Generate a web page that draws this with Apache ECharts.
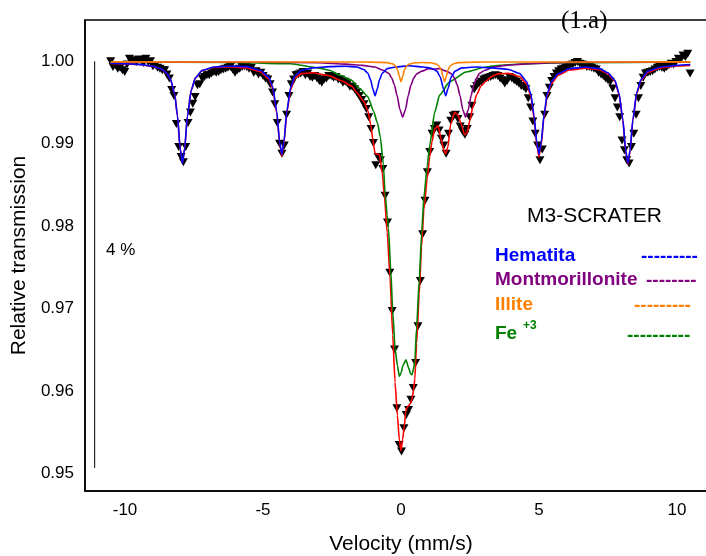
<!DOCTYPE html>
<html><head><meta charset="utf-8">
<script src="https://cdn.jsdelivr.net/npm/echarts@6/dist/echarts.min.js"></script>
<style>html,body{margin:0;padding:0;background:#fff}#c{width:706px;height:556px}</style>
</head><body><div id="c"></div>
<script>
// channel velocity calibration (mm/s)
const velStart = -10.52, velStep = 0.085;
// measured relative transmission per channel
const measured = [1.0000,0.9993,0.9995,0.9991,0.9992,0.9989,0.9987,0.9996,1.0003,1.0001,
1.0001,0.9999,1.0002,1.0001,0.9998,1.0003,0.9999,1.0000,0.9994,0.9995,
0.9992,0.9991,0.9989,0.9989,0.9984,0.9979,0.9965,0.9958,0.9924,0.9896,
0.9884,0.98775,0.9896,0.9925,0.9938,0.99485,0.99566,0.9971,0.9972,0.9979,
0.9981,0.9983,0.9983,0.9985,0.9987,0.9986,0.9987,0.9989,0.9990,0.9991,
0.9992,0.9993,0.9990,0.9986,0.9989,0.9991,0.9993,0.9994,0.9993,0.9991,
0.9992,0.9986,0.9988,0.9984,0.9986,0.9982,0.9979,0.9978,0.9972,0.9962,
0.9948,0.9925,0.9900,0.9888,0.9898,0.9935,0.9958,0.9972,0.9978,0.9983,
0.9984,0.9985,0.9987,0.9983,0.9985,0.9981,0.9980,0.9982,0.9979,0.9976,
0.9974,0.9978,0.9979,0.9982,0.9982,0.9980,0.9981,0.9978,0.9978,0.9974,
0.9975,0.9973,0.9969,0.9969,0.9966,0.9962,0.9958,0.9953,0.9948,0.9942,
0.9932,0.9918,0.9901,0.9874,0.9884,0.9880,0.98695,0.9837,0.98045,0.97437,
0.96971,0.96505,0.95794,0.95349,0.95268,0.95551,0.9571,0.95773,0.95896,0.96038,
0.96342,0.96788,0.97336,0.97904,0.98309,0.98653,0.9890,0.9912,0.9918,0.9922,
0.9916,0.9906,0.9898,0.9888,0.9912,0.9928,0.9934,0.9935,0.9930,0.9921,
0.9915,0.9911,0.9918,0.9932,0.9946,0.9966,0.9970,0.9973,0.9975,0.9978,
0.9979,0.9980,0.9981,0.9982,0.9983,0.9982,0.9979,0.9977,0.9973,0.9976,
0.9981,0.9979,0.9977,0.9975,0.9973,0.9970,0.9969,0.9966,0.9955,0.9944,
0.9927,0.9912,0.9898,0.9880,0.9893,0.9935,0.9958,0.9968,0.9976,0.9981,
0.9985,0.9988,0.9990,0.9991,0.9992,0.9994,0.9995,0.9996,0.9998,0.9999,
0.9997,0.9996,0.9995,0.9993,0.9993,0.9992,0.9991,0.9990,0.9986,0.9984,
0.9982,0.9979,0.9977,0.9975,0.9967,0.9955,0.9944,0.9932,0.9904,0.9892,
0.9880,0.9876,0.9896,0.9912,0.9935,0.9955,0.9970,0.9980,0.9985,0.9986,
0.9987,0.9988,0.9990,0.9992,0.9993,0.9992,0.9991,0.9993,0.9995,0.9997,
0.9996,0.9999,1.0003,1.0002,1.0007,1.0005,1.0009,0.9985];

const totalFit = [[-10.52,0.99974],[-10,0.99968],[-9.5,0.9996],[-9,0.99938],[-8.7,0.99908],[-8.5,0.99858],[-8.35,0.99778],[-8.2,0.99598],[-8.1,0.99338],[-8,0.98938],[-7.92,0.98758],[-7.84,0.98938],[-7.74,0.99328],[-7.6,0.99648],[-7.45,0.99798],[-7.2,0.99888],[-6.8,0.99925],[-6.2,0.99932],[-5.6,0.9992],[-5.1,0.99873],[-4.8,0.9979],[-4.65,0.9967],[-4.5,0.9937],[-4.4,0.9901],[-4.32,0.9885],[-4.24,0.9901],[-4.14,0.9937],[-4,0.99655],[-3.85,0.99795],[-3.6,0.9985],[-3.2,0.9986],[-2.6,0.99825],[-2.2,0.9977],[-1.8,0.99703],[-1.6,0.9962],[-1.35,0.99513],[-1.2,0.994],[-1.1,0.99236],[-1.02,0.9905],[-0.94,0.98883],[-0.86,0.98874],[-0.78,0.98865],[-0.68,0.98648],[-0.6,0.98362],[-0.5,0.97925],[-0.4,0.97396],[-0.3,0.96681],[-0.216,0.96108],[-0.13,0.95708],[-0.06,0.95407],[0,0.9528],[0.06,0.95419],[0.12,0.95578],[0.18,0.95777],[0.28,0.95826],[0.35,0.95857],[0.4,0.95911],[0.46,0.96025],[0.5,0.96147],[0.565,0.96575],[0.66,0.97177],[0.745,0.97753],[0.83,0.98203],[0.95,0.9858],[1.04,0.9884],[1.12,0.9902],[1.22,0.9918],[1.34,0.9922],[1.46,0.9905],[1.54,0.9893],[1.62,0.9888],[1.7,0.9896],[1.8,0.9924],[1.94,0.9938],[2.06,0.9935],[2.18,0.9924],[2.3,0.9911],[2.4,0.9914],[2.5,0.9929],[2.6,0.9944],[2.75,0.996],[2.9,0.997],[3.08,0.9976],[3.3,0.9982],[3.56,0.9985],[3.9,0.99853],[4.3,0.99815],[4.55,0.99725],[4.7,0.9958],[4.82,0.99315],[4.92,0.98985],[5,0.9884],[5.08,0.98985],[5.18,0.99318],[5.3,0.99585],[5.45,0.9973],[5.7,0.9983],[6.1,0.99893],[6.7,0.99915],[7.2,0.99897],[7.5,0.99848],[7.75,0.99758],[7.9,0.99598],[8.04,0.99278],[8.14,0.98908],[8.22,0.98748],[8.3,0.98908],[8.4,0.99278],[8.54,0.99608],[8.7,0.99768],[8.95,0.99868],[9.4,0.9992],[10,0.99942],[10.48,0.9995]];

const hematita = [[-10.52,0.99975],[-10,0.9997],[-9.5,0.99962],[-9,0.9994],[-8.7,0.9991],[-8.5,0.9986],[-8.35,0.9978],[-8.2,0.996],[-8.1,0.9934],[-8,0.9894],[-7.92,0.9876],[-7.84,0.9894],[-7.74,0.9933],[-7.6,0.9965],[-7.45,0.998],[-7.2,0.9989],[-6.8,0.9993],[-6.2,0.9994],[-5.6,0.99935],[-5.1,0.9989],[-4.8,0.9981],[-4.65,0.9969],[-4.5,0.9939],[-4.4,0.9903],[-4.32,0.9887],[-4.24,0.9903],[-4.14,0.9939],[-4,0.9968],[-3.85,0.9982],[-3.6,0.9989],[-3.2,0.9992],[-2.6,0.99935],[-2,0.9994],[-1.6,0.9993],[-1.35,0.999],[-1.2,0.99855],[-1.1,0.99775],[-1.02,0.99665],[-0.94,0.9958],[-0.86,0.99665],[-0.78,0.99775],[-0.68,0.99855],[-0.5,0.9991],[-0.2,0.9993],[0.3,0.99945],[0.8,0.9993],[1.1,0.99915],[1.3,0.9988],[1.42,0.9981],[1.54,0.99665],[1.62,0.9958],[1.7,0.99665],[1.82,0.9981],[1.96,0.9988],[2.2,0.9992],[2.7,0.9993],[3.3,0.9992],[3.9,0.999],[4.3,0.9985],[4.55,0.99755],[4.7,0.9961],[4.82,0.99345],[4.92,0.99015],[5,0.9887],[5.08,0.99015],[5.18,0.99345],[5.3,0.9961],[5.45,0.99755],[5.7,0.9985],[6.1,0.9991],[6.7,0.9993],[7.2,0.9991],[7.5,0.9986],[7.75,0.9977],[7.9,0.9961],[8.04,0.9929],[8.14,0.9892],[8.22,0.9876],[8.3,0.9892],[8.4,0.9929],[8.54,0.9962],[8.7,0.9978],[8.95,0.9988],[9.4,0.9993],[10,0.9995],[10.48,0.9996]];

const montmorillonite = [[-10.52,0.9999],[-5,0.99988],[-3,0.99982],[-2,0.99965],[-1.4,0.9995],[-0.94,0.9993],[-0.64,0.9989],[-0.44,0.99853],[-0.34,0.99799],[-0.24,0.99714],[-0.14,0.99583],[-0.04,0.99414],[0.06,0.99322],[0.16,0.99412],[0.26,0.99581],[0.36,0.9971],[0.46,0.99795],[0.56,0.99846],[0.76,0.9988],[1,0.9991],[1.2,0.99905],[1.4,0.9991],[1.64,0.9988],[1.84,0.99846],[1.94,0.99795],[2.04,0.9971],[2.14,0.99581],[2.24,0.99412],[2.34,0.99322],[2.44,0.99414],[2.54,0.99583],[2.64,0.99714],[2.74,0.99799],[2.84,0.99853],[3.04,0.9989],[3.34,0.9993],[3.8,0.9995],[4.4,0.99965],[5.4,0.99982],[7.4,0.99988],[10.48,0.9999]];

const illite = [[-10.52,0.99992],[-2,0.99991],[-1,0.99989],[-0.5,0.99983],[-0.3,0.99968],[-0.2,0.99944],[-0.12,0.99894],[-0.06,0.99816],[0,0.99751],[0.06,0.99815],[0.12,0.99893],[0.2,0.99943],[0.3,0.99966],[0.5,0.99981],[0.79,0.99984],[1.08,0.99981],[1.28,0.99966],[1.38,0.99943],[1.46,0.99893],[1.52,0.99815],[1.58,0.99751],[1.64,0.99815],[1.7,0.99893],[1.78,0.99943],[1.88,0.99966],[2.08,0.99983],[2.58,0.99989],[3.5,0.99991],[10.48,0.99992]];

const fe3 = [[-10.52,0.9999],[-6,0.99985],[-4,0.9997],[-3,0.9992],[-2.6,0.9989],[-2.2,0.9983],[-1.8,0.9977],[-1.5,0.9967],[-1.2,0.9957],[-1,0.994],[-0.85,0.9925],[-0.75,0.9908],[-0.64,0.9875],[-0.576,0.9839],[-0.5,0.9813],[-0.456,0.9798],[-0.37,0.9746],[-0.3,0.9697],[-0.216,0.9652],[-0.13,0.9631],[-0.06,0.9618],[0,0.9622],[0.08,0.9632],[0.18,0.9638],[0.28,0.9628],[0.35,0.9621],[0.4,0.962],[0.46,0.9628],[0.5,0.9636],[0.565,0.9677],[0.66,0.9734],[0.745,0.979],[0.83,0.9835],[0.95,0.9873],[1.04,0.9898],[1.22,0.9938],[1.4,0.9959],[1.76,0.9975],[2.36,0.9987],[3.08,0.9993],[3.6,0.99951],[4.5,0.9997],[6,0.99982],[10.48,0.9999]];

const scaleBar = [[-11.1,1.0],[-11.1,0.9507]];
const xTicks = [-10,-5,0,5,10];
const yTicks = [0.95,0.96,0.97,0.98,0.99,1.00];

const FONT = 'Liberation Sans, Arial, sans-serif';
const points = measured.map((v,i)=>[+(velStart+i*velStep).toFixed(3), v]);

function lineSeries(name, data, color, z){
  return {name, type:'line', data, symbol:'none', smooth:0.2, smoothMonotone:'x',
    lineStyle:{color, width:1.6}, z, silent:true, animation:false};
}

const chart = echarts.init(document.getElementById('c'), null, {renderer:'canvas'});
chart.setOption({
  animation:false,
  backgroundColor:'#fff',
  grid:{left:85, top:20, width:632, height:471, containLabel:false, outerBoundsMode:'none',
    show:true, borderColor:'#000', borderWidth:1.5, backgroundColor:'transparent'},
  xAxis:{type:'value', min:-11.45, max:11.45,
    axisLine:{show:true, onZero:false, lineStyle:{color:'#000', width:1.5}},
    axisTick:{show:false}, splitLine:{show:false},
    axisLabel:{customValues:xTicks, color:'#000', fontSize:17, fontFamily:FONT, margin:11},
    name:'Velocity (mm/s)', nameLocation:'middle', nameGap:43,
    nameTextStyle:{color:'#000', fontSize:21, fontFamily:FONT}},
  yAxis:{type:'value', min:0.9479, max:1.005,
    axisLine:{show:true, onZero:false, lineStyle:{color:'#000', width:1.5}},
    axisTick:{show:false}, splitLine:{show:false},
    axisLabel:{customValues:yTicks, formatter:v=>v.toFixed(2), color:'#000', fontSize:17, fontFamily:FONT, margin:11},
    name:'Relative transmission', nameLocation:'middle', nameGap:48, nameRotate:90,
    nameTextStyle:{color:'#000', fontSize:21, fontFamily:FONT}},
  series:[
    {name:'scale', type:'line', data:scaleBar, symbol:'none', lineStyle:{color:'#000', width:1}, z:1, silent:true},
    {name:'data', type:'scatter', data:points, symbol:'triangle', symbolRotate:180, symbolSize:[9,8],
      itemStyle:{color:'#000', opacity:1, borderWidth:0}, z:2, silent:true},
    lineSeries('Fit', totalFit, '#ff0000', 3),
    lineSeries('Fe+3', fe3, '#008000', 4),
    lineSeries('Montmorillonite', montmorillonite, '#800080', 5),
    lineSeries('Hematita', hematita, '#0000ff', 6),
    lineSeries('Illite', illite, '#ff8000', 7)
  ],
  graphic:[
    {type:'text', x:561, y:21, z:100, style:{text:'(1.a)', font:'25px "Liberation Serif", "Times New Roman", serif', fill:'#000', verticalAlign:'middle'}},
    {type:'text', x:106, y:250, style:{text:'4 %', font:'17px '+FONT, fill:'#000', verticalAlign:'middle'}},
    {type:'text', x:527, y:216, style:{text:'M3-SCRATER', font:'21px '+FONT, fill:'#000', verticalAlign:'middle'}},
    {type:'text', x:495, y:256, style:{text:'Hematita', font:'bold 19px '+FONT, fill:'#0000ff', verticalAlign:'middle'}},
    {type:'text', x:641, y:257, style:{text:'---------', font:'bold 19px '+FONT, fill:'#0000ff', verticalAlign:'middle'}},
    {type:'text', x:495, y:280, style:{text:'Montmorillonite', font:'bold 19px '+FONT, fill:'#800080', verticalAlign:'middle'}},
    {type:'text', x:646, y:281, style:{text:'--------', font:'bold 19px '+FONT, fill:'#800080', verticalAlign:'middle'}},
    {type:'text', x:495, y:305, style:{text:'Illite', font:'bold 19px '+FONT, fill:'#ff8000', verticalAlign:'middle'}},
    {type:'text', x:634, y:306, style:{text:'---------', font:'bold 19px '+FONT, fill:'#ff8000', verticalAlign:'middle'}},
    {type:'text', x:495, y:334, style:{text:'Fe', font:'bold 19px '+FONT, fill:'#008000', verticalAlign:'middle'}},
    {type:'text', x:523, y:326, style:{text:'+3', font:'bold 12px '+FONT, fill:'#008000', verticalAlign:'middle'}},
    {type:'text', x:627, y:336, style:{text:'----------', font:'bold 19px '+FONT, fill:'#008000', verticalAlign:'middle'}}
  ]
});
</script></body></html>
